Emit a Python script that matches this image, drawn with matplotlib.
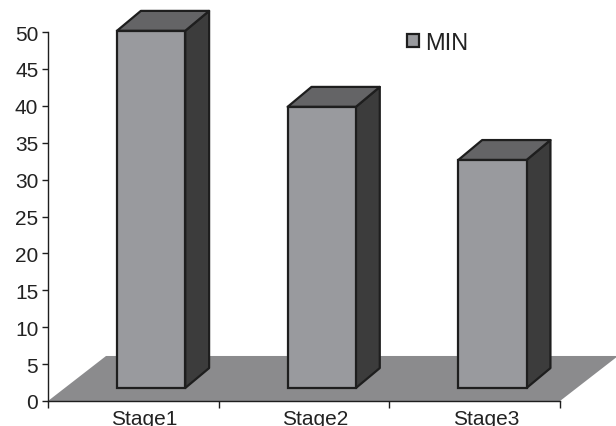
import numpy as np
import matplotlib
matplotlib.use('Agg')
import matplotlib.pyplot as plt
from matplotlib.patches import Polygon

# Data
stages = ['Stage1', 'Stage2', 'Stage3']
min_values = [48.4, 38.1, 30.9]
y_ticks = [0, 5, 10, 15, 20, 25, 30, 35, 40, 45, 50]

plt.rcParams['font.family'] = ['Liberation Sans', 'DejaVu Sans']

FRONT = '#999a9e'
SIDE = '#3c3c3c'
TOP = '#646466'
FLOOR = '#8b8b8d'
EDGE = '#1e1e1e'


def draw_floor(ax, n, dx, dy):
    """Grey parallelogram under the columns."""
    pts = [(0, 0), (n, 0), (n + dx, dy), (dx, dy)]
    ax.add_patch(Polygon(pts, closed=True, facecolor=FLOOR, edgecolor='none',
                         zorder=1, clip_on=False))


def draw_columns(ax, values, base, width, offset, dx, dy):
    """Front faces via ax.bar, then the side and top faces for the 3D look."""
    lefts = np.arange(len(values)) + offset
    bars = ax.bar(lefts, values, width=width, bottom=base, align='edge',
                  color=FRONT, edgecolor=EDGE, linewidth=1.6, zorder=3,
                  clip_on=False, label='MIN')
    for x0, v in zip(lefts, values):
        x1 = x0 + width
        top = base + v
        side = [(x1, base), (x1, top), (x1 + dx, top + dy), (x1 + dx, base + dy)]
        cap = [(x0, top), (x1, top), (x1 + dx, top + dy), (x0 + dx, top + dy)]
        ax.add_patch(Polygon(side, closed=True, facecolor=SIDE, edgecolor=EDGE,
                             linewidth=1.6, joinstyle='round', zorder=2, clip_on=False))
        ax.add_patch(Polygon(cap, closed=True, facecolor=TOP, edgecolor=EDGE,
                             linewidth=1.6, joinstyle='round', zorder=2, clip_on=False))
    return bars


fig = plt.figure(figsize=(6.16, 4.27), dpi=100)
ax = fig.add_axes([48 / 616, 25 / 427, 512 / 616, 369 / 427])

n = len(stages)
ax.set_xlim(0, n)
ax.set_ylim(0, 50)

draw_floor(ax, n, dx=0.34, dy=6.1)
bars = draw_columns(ax, min_values, base=1.76, width=0.40, offset=0.404,
                    dx=0.14, dy=2.7)

# axes styling
for side in ['top', 'right']:
    ax.spines[side].set_visible(False)
for side in ['left', 'bottom']:
    ax.spines[side].set_color(EDGE)
    ax.spines[side].set_linewidth(1.0)
    ax.spines[side].set_zorder(5)

ax.set_yticks(y_ticks)
ax.tick_params(axis='y', direction='out', length=4, width=1.0, color=EDGE,
               labelsize=15, labelcolor='#222222', pad=3)
ax.set_xticks(range(n + 1))
ax.set_xticklabels([])
ax.tick_params(axis='x', which='major', direction='out', length=5, width=1.0, color=EDGE)
ax.set_xticks(np.arange(n) + 0.565, minor=True)
ax.set_xticklabels(stages, minor=True)
ax.tick_params(axis='x', which='minor', length=0, labelsize=15,
               labelcolor='#222222', pad=6)

leg = ax.legend(handles=[bars], labels=['MIN'], loc='upper left',
                bbox_to_anchor=(407 / 616, 1 - 33 / 427), bbox_transform=fig.transFigure,
                frameon=False, fontsize=17, handlelength=0.5, handleheight=0.5,
                handletextpad=0.25, borderpad=0, borderaxespad=0)
for t in leg.get_texts():
    t.set_color('#222222')

fig.savefig('out.png', dpi=100)
